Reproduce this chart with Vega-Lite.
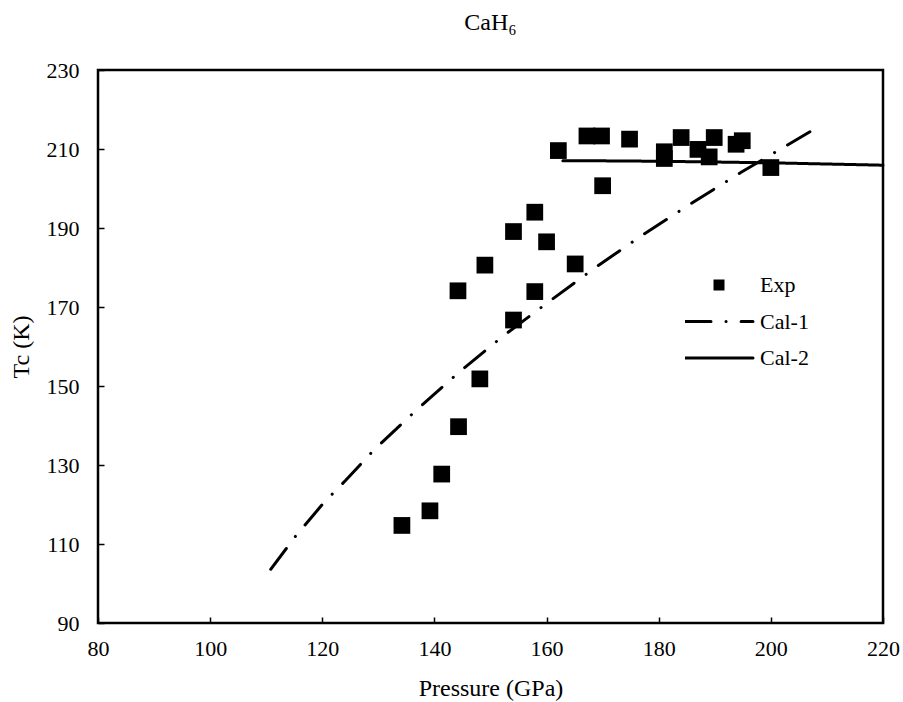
{
  "$schema": "https://vega.github.io/schema/vega-lite/v6.json",
  "width": 785,
  "height": 553,
  "autosize": {"type": "none"},
  "padding": {"left": 98, "top": 70, "right": 20, "bottom": 79},
  "background": "white",
  "title": {"text": "CaH₆", "font": "Liberation Serif", "fontSize": 24, "fontWeight": "normal", "color": "black", "anchor": "middle", "offset": 24},
  "datasets": {
    "exp": [
      {"p": 134.2, "tc": 114.7, "series": "Exp"},
      {"p": 139.2, "tc": 118.4, "series": "Exp"},
      {"p": 141.3, "tc": 127.7, "series": "Exp"},
      {"p": 144.3, "tc": 139.7, "series": "Exp"},
      {"p": 148.1, "tc": 151.8, "series": "Exp"},
      {"p": 144.2, "tc": 174.1, "series": "Exp"},
      {"p": 149.0, "tc": 180.6, "series": "Exp"},
      {"p": 154.1, "tc": 166.7, "series": "Exp"},
      {"p": 157.9, "tc": 173.9, "series": "Exp"},
      {"p": 154.1, "tc": 189.1, "series": "Exp"},
      {"p": 157.9, "tc": 194.0, "series": "Exp"},
      {"p": 160.0, "tc": 186.5, "series": "Exp"},
      {"p": 165.1, "tc": 180.9, "series": "Exp"},
      {"p": 162.1, "tc": 209.6, "series": "Exp"},
      {"p": 167.2, "tc": 213.3, "series": "Exp"},
      {"p": 169.8, "tc": 213.3, "series": "Exp"},
      {"p": 170.0, "tc": 200.7, "series": "Exp"},
      {"p": 174.8, "tc": 212.5, "series": "Exp"},
      {"p": 181.0, "tc": 209.3, "series": "Exp"},
      {"p": 181.0, "tc": 207.6, "series": "Exp"},
      {"p": 184.0, "tc": 212.9, "series": "Exp"},
      {"p": 187.0, "tc": 209.9, "series": "Exp"},
      {"p": 189.0, "tc": 208.0, "series": "Exp"},
      {"p": 189.9, "tc": 212.9, "series": "Exp"},
      {"p": 193.8, "tc": 211.2, "series": "Exp"},
      {"p": 194.9, "tc": 212.1, "series": "Exp"},
      {"p": 200.0, "tc": 205.3, "series": "Exp"}
    ],
    "cal": [
      {"p": 110.8, "tc": 103.6, "series": "Cal-1"},
      {"p": 115.3, "tc": 112.1, "series": "Cal-1"},
      {"p": 120.3, "tc": 120.5, "series": "Cal-1"},
      {"p": 124.1, "tc": 126.0, "series": "Cal-1"},
      {"p": 129.2, "tc": 133.8, "series": "Cal-1"},
      {"p": 136.7, "tc": 143.8, "series": "Cal-1"},
      {"p": 144.4, "tc": 153.5, "series": "Cal-1"},
      {"p": 152.3, "tc": 162.7, "series": "Cal-1"},
      {"p": 160.0, "tc": 170.9, "series": "Cal-1"},
      {"p": 168.9, "tc": 180.2, "series": "Cal-1"},
      {"p": 177.3, "tc": 188.4, "series": "Cal-1"},
      {"p": 186.0, "tc": 196.4, "series": "Cal-1"},
      {"p": 194.7, "tc": 204.1, "series": "Cal-1"},
      {"p": 207.0, "tc": 214.4, "series": "Cal-1"},
      {"p": 162.9, "tc": 207.0, "series": "Cal-2"},
      {"p": 170.0, "tc": 207.0, "series": "Cal-2"},
      {"p": 180.0, "tc": 206.9, "series": "Cal-2"},
      {"p": 190.0, "tc": 206.7, "series": "Cal-2"},
      {"p": 200.0, "tc": 206.5, "series": "Cal-2"},
      {"p": 210.0, "tc": 206.2, "series": "Cal-2"},
      {"p": 220.0, "tc": 205.9, "series": "Cal-2"}
    ]
  },
  "encoding": {
    "x": {
      "field": "p", "type": "quantitative",
      "scale": {"domain": [80, 220], "nice": false, "zero": false},
      "axis": {"title": "Pressure (GPa)", "values": [80, 100, 120, 140, 160, 180, 200, 220], "grid": false, "domain": false, "labelFlush": false, "tickSize": -6, "labelPadding": 21, "titlePadding": 17}
    },
    "y": {
      "field": "tc", "type": "quantitative",
      "scale": {"domain": [90, 230], "nice": false, "zero": false},
      "axis": {"title": "Tc (K)", "values": [90, 110, 130, 150, 170, 190, 210, 230], "grid": false, "domain": false, "labelFlush": false, "tickSize": -6, "labelPadding": 25, "titlePadding": 13}
    },
    "color": {
      "field": "series", "type": "nominal",
      "scale": {"domain": ["Exp", "Cal-1", "Cal-2"], "range": ["black", "black", "black"]},
      "legend": {
        "title": null,
        "orient": "none",
        "legendX": 587,
        "legendY": 204,
        "symbolSize": 4624,
        "clipHeight": 22,
        "rowPadding": 14.5,
        "symbolOffset": 23,
        "labelOffset": 30,
        "encode": {
          "symbols": {
            "update": {
              "shape": {"signal": "datum.value === 'Exp' ? 'square' : 'stroke'"},
              "size": {"signal": "datum.value === 'Exp' ? 121 : 4624"},
              "fill": {"value": "black"},
              "fillOpacity": {"value": 1},
              "stroke": {"value": "black"},
              "strokeWidth": {"signal": "datum.value === 'Exp' ? 0 : 3"},
              "strokeDash": {"signal": "datum.value === 'Cal-1' ? [26, 15, 0.1, 15] : [1, 0]"},
              "strokeCap": {"value": "round"},
              "opacity": {"value": 1}
            }
          }
        }
      }
    }
  },
  "layer": [
    {
      "data": {"name": "cal"},
      "mark": {"type": "line", "strokeWidth": 3, "strokeCap": "round"},
      "encoding": {
        "strokeDash": {
          "field": "series", "type": "nominal",
          "scale": {"domain": ["Cal-1", "Cal-2"], "range": [[26, 15, 0.1, 15], [1, 0]]},
          "legend": null
        }
      }
    },
    {
      "data": {"name": "exp"},
      "mark": {"type": "point", "shape": "square", "filled": true, "size": 280, "opacity": 1}
    }
  ],
  "config": {
    "font": "Liberation Serif",
    "view": {"stroke": "black", "strokeWidth": 2.5},
    "axis": {
      "labelFont": "Liberation Serif",
      "labelFontSize": 22,
      "labelColor": "black",
      "titleFont": "Liberation Serif",
      "titleFontSize": 24,
      "titleFontWeight": "normal",
      "titleColor": "black",
      "tickColor": "black",
      "tickWidth": 1.5
    },
    "legend": {
      "labelFont": "Liberation Serif",
      "labelFontSize": 22,
      "labelColor": "black"
    }
  }
}
